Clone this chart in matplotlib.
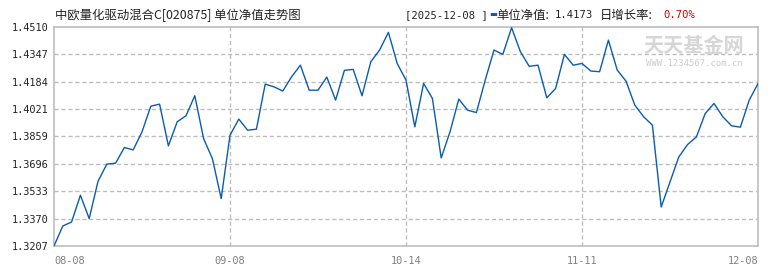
import matplotlib
matplotlib.use("Agg")
import matplotlib.pyplot as plt
from matplotlib.ticker import FixedLocator

# ---- data ----
title = "中欧量化驱动混合C[020875] 单位净值走势图"
latest_date = "2025-12-08"
latest_nav = "1.4173"
daily_growth = "0.70%"

nav = [1.3207, 1.3326, 1.3350, 1.3509, 1.3370, 1.3592, 1.3694, 1.3700, 1.3793, 1.3779,
       1.3886, 1.4039, 1.4051, 1.3803, 1.3946, 1.3982, 1.4101, 1.3846, 1.3727, 1.3489,
       1.3866, 1.3962, 1.3896, 1.3902, 1.4170, 1.4154, 1.4129, 1.4214, 1.4283, 1.4134,
       1.4134, 1.4212, 1.4075, 1.4252, 1.4258, 1.4101, 1.4303, 1.4373, 1.4478, 1.4293,
       1.4194, 1.3916, 1.4174, 1.4085, 1.3731, 1.3886, 1.4081, 1.4015, 1.4001, 1.4194,
       1.4373, 1.4347, 1.4506, 1.4363, 1.4276, 1.4283, 1.4089, 1.4144, 1.4347, 1.4283,
       1.4293, 1.4248, 1.4244, 1.4432, 1.4254, 1.4188, 1.4045, 1.3976, 1.3926, 1.3439,
       1.3588, 1.3737, 1.3811, 1.3856, 1.3995, 1.4055, 1.3976, 1.3922, 1.3914, 1.4075,
       1.4173]
x_tick_pos = [0, 20, 40, 60, 80]
x_tick_labels = ["08-08", "09-08", "10-14", "11-11", "12-08"]
y_ticks = [1.3207, 1.3370, 1.3533, 1.3696, 1.3859, 1.4021, 1.4184, 1.4347, 1.4510]
y_tick_labels = ["1.3207", "1.3370", "1.3533", "1.3696", "1.3859", "1.4021", "1.4184", "1.4347", "1.4510"]

W, H = 770, 270
fig = plt.figure(figsize=(W / 100, H / 100), dpi=100)
fig.patch.set_facecolor("white")

L, R, T, B = 54, 758, 27, 246
ax = fig.add_axes([L / W, 1 - B / H, (R - L) / W, (B - T) / H])

xs = list(range(len(nav)))
ax.plot(xs, nav, color="#0b5cad", linewidth=1.0, zorder=3)

ax.set_xlim(0, len(nav) - 1)
ax.set_ylim(y_ticks[0], y_ticks[-1])

grid_col = "#bdbdbd"
for s in ax.spines.values():
    s.set_color(grid_col)
    s.set_linewidth(1.2)

ax.yaxis.set_major_locator(FixedLocator(y_ticks))
ax.set_yticklabels(y_tick_labels, family="DejaVu Sans Mono", fontsize=7.4, color="#222222")
ax.tick_params(axis="y", length=0, pad=4)
ax.xaxis.set_major_locator(FixedLocator(x_tick_pos))
ax.set_xticklabels([])
ax.tick_params(axis="x", length=0)

for y in y_ticks[1:-1]:
    ax.axhline(y, color=grid_col, linestyle=(0, (3, 2)), linewidth=1.0, zorder=1)
for xp in x_tick_pos[1:-1]:
    ax.axvline(xp, color=grid_col, linestyle=(0, (3, 2)), linewidth=1.0, zorder=1)

# x tick labels with alignment like the reference
for i, (xp, lab) in enumerate(zip(x_tick_pos, x_tick_labels)):
    ha = "left" if i == 0 else ("right" if i == len(x_tick_pos) - 1 else "center")
    ax.text(xp, -0.045, lab, transform=ax.get_xaxis_transform(), ha=ha, va="top",
            family="DejaVu Sans Mono", fontsize=7.4, color="#808080")

# watermark
fig.text(694 / W, 1 - 45 / H, "天天基金网", ha="center", va="center",
         family=["Noto Sans CJK SC", "DejaVu Sans"], fontsize=14.5, fontweight="bold",
         color="#d6d6d6", zorder=0)
fig.text(694 / W, 1 - 63 / H, "WWW.1234567.com.cn", ha="center", va="center",
         family="DejaVu Sans Mono", fontsize=6.4, color="#cccccc", zorder=0)

cjk = ["Noto Sans CJK SC", "DejaVu Sans"]
# title
fig.text(55 / W, 1 - 15 / H, title, ha="left", va="center", family=cjk,
         fontsize=8.9, color="#222222")
# right header
fig.text(405 / W, 1 - 15 / H, "[" + latest_date + " ]", ha="left", va="center",
         family="DejaVu Sans Mono", fontsize=7.6, color="#222222")
fig.text(489 / W, 1 - 15 / H, "▬", ha="left", va="center", family="DejaVu Sans",
         fontsize=6, color="#0b5cad")
fig.text(496 / W, 1 - 15 / H, "单位净值:", ha="left", va="center", family=cjk,
         fontsize=8.9, color="#222222")
fig.text(555 / W, 1 - 15 / H, latest_nav, ha="left", va="center",
         family="DejaVu Sans Mono", fontsize=7.6, color="#222222")
fig.text(600 / W, 1 - 15 / H, "日增长率:", ha="left", va="center", family=cjk,
         fontsize=8.9, color="#222222")
fig.text(663 / W, 1 - 15 / H, daily_growth, ha="left", va="center",
         family="DejaVu Sans Mono", fontsize=7.6, color="#d40000")

fig.savefig("out.png", dpi=100, facecolor="white")
